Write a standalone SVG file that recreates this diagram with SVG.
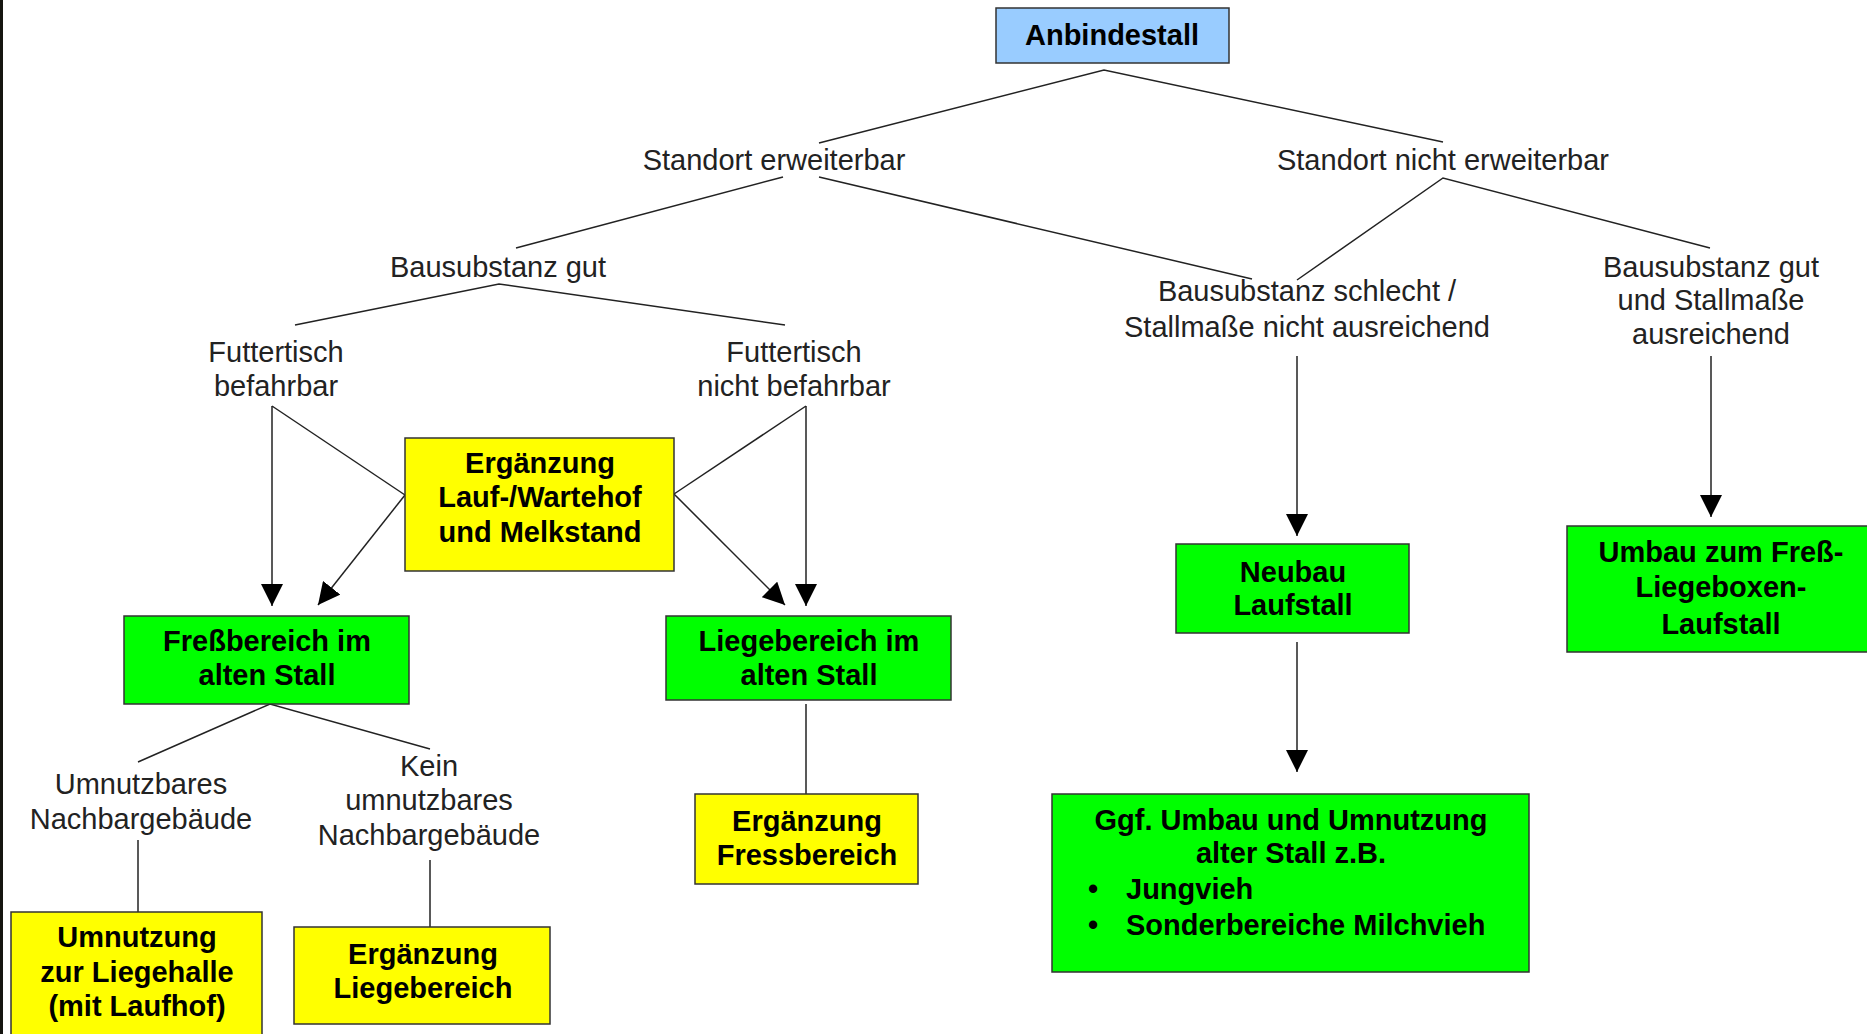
<svg xmlns="http://www.w3.org/2000/svg" width="1867" height="1034" viewBox="0 0 1867 1034">
<defs>
<style>
.lbl{font-family:"Liberation Sans",Arial,sans-serif;font-size:29px;fill:#222;text-anchor:middle}
.bt{font-family:"Liberation Sans",Arial,sans-serif;font-size:29px;font-weight:bold;fill:#000;text-anchor:middle}
.btl{font-family:"Liberation Sans",Arial,sans-serif;font-size:29px;font-weight:bold;fill:#000}
.box{stroke:#333;stroke-width:1.5}
.y{fill:#FFFF00}
.g{fill:#00FF00}
.b{fill:#99CCFF}
.c{fill:none;stroke:#222;stroke-width:1.5}
</style>
<marker id="ah" markerUnits="userSpaceOnUse" markerWidth="22" markerHeight="22" refX="20" refY="10" orient="auto" viewBox="0 0 20 20">
<path d="M0,0 L20,10 L0,20 z" fill="#000"/>
</marker>
</defs>
<rect x="0" y="0" width="1867" height="1034" fill="#fff"/>
<rect x="0" y="0" width="3" height="1034" fill="#151510"/>

<g id="connectors">
<polyline class="c" points="819,143 1104,70 1443,142"/>
<line class="c" x1="783" y1="177" x2="516" y2="248"/>
<line class="c" x1="819" y1="177" x2="1252" y2="279"/>
<polyline class="c" points="1297,280 1443,178 1710,248"/>
<polyline class="c" points="295,325 499,284 785,325"/>
<line class="c" x1="272" y1="406" x2="272" y2="606" marker-end="url(#ah)"/>
<line class="c" x1="272" y1="406" x2="405" y2="495"/>
<line class="c" x1="405" y1="495" x2="318" y2="605" marker-end="url(#ah)"/>
<line class="c" x1="806" y1="406" x2="806" y2="606" marker-end="url(#ah)"/>
<line class="c" x1="806" y1="406" x2="674" y2="494"/>
<line class="c" x1="674" y1="494" x2="785" y2="605" marker-end="url(#ah)"/>
<polyline class="c" points="138,762 270,704 430,749"/>
<line class="c" x1="138" y1="840" x2="138" y2="912"/>
<line class="c" x1="430" y1="860" x2="430" y2="927"/>
<line class="c" x1="806" y1="704" x2="806" y2="794"/>
<line class="c" x1="1297" y1="356" x2="1297" y2="536" marker-end="url(#ah)"/>
<line class="c" x1="1297" y1="642" x2="1297" y2="772" marker-end="url(#ah)"/>
<line class="c" x1="1711" y1="356" x2="1711" y2="517" marker-end="url(#ah)"/>
</g>

<g id="anbindestall">
<rect class="box b" x="996" y="8" width="233" height="55"/>
<text class="bt" x="1112" y="45">Anbindestall</text>
</g>
<g id="standort-erweiterbar">
<text class="lbl" x="774" y="170">Standort erweiterbar</text>
</g>
<g id="standort-nicht-erweiterbar">
<text class="lbl" x="1443" y="170">Standort nicht erweiterbar</text>
</g>
<g id="bausubstanz-gut">
<text class="lbl" x="498" y="277">Bausubstanz gut</text>
</g>
<g id="bausubstanz-schlecht">
<text class="lbl" x="1307" y="301">Bausubstanz schlecht /</text>
<text class="lbl" x="1307" y="337">Stallmaße nicht ausreichend</text>
</g>
<g id="bausubstanz-gut-stallmasse">
<text class="lbl" x="1711" y="277">Bausubstanz gut</text>
<text class="lbl" x="1711" y="310">und Stallmaße</text>
<text class="lbl" x="1711" y="344">ausreichend</text>
</g>
<g id="futtertisch-befahrbar">
<text class="lbl" x="276" y="362">Futtertisch</text>
<text class="lbl" x="276" y="396">befahrbar</text>
</g>
<g id="futtertisch-nicht-befahrbar">
<text class="lbl" x="794" y="362">Futtertisch</text>
<text class="lbl" x="794" y="396">nicht befahrbar</text>
</g>
<g id="ergaenzung-laufhof">
<rect class="box y" x="405" y="438" width="269" height="133"/>
<text class="bt" x="540" y="473">Ergänzung</text>
<text class="bt" x="540" y="507">Lauf-/Wartehof</text>
<text class="bt" x="540" y="542">und Melkstand</text>
</g>
<g id="fressbereich">
<rect class="box g" x="124" y="616" width="285" height="88"/>
<text class="bt" x="267" y="651">Freßbereich im</text>
<text class="bt" x="267" y="685">alten Stall</text>
</g>
<g id="liegebereich">
<rect class="box g" x="666" y="616" width="285" height="84"/>
<text class="bt" x="809" y="651">Liegebereich im</text>
<text class="bt" x="809" y="685">alten Stall</text>
</g>
<g id="umnutzbares">
<text class="lbl" x="141" y="794">Umnutzbares</text>
<text class="lbl" x="141" y="829">Nachbargebäude</text>
</g>
<g id="kein-umnutzbares">
<text class="lbl" x="429" y="776">Kein</text>
<text class="lbl" x="429" y="810">umnutzbares</text>
<text class="lbl" x="429" y="845">Nachbargebäude</text>
</g>
<g id="umnutzung-liegehalle">
<rect class="box y" x="11" y="912" width="251" height="135"/>
<text class="bt" x="137" y="947">Umnutzung</text>
<text class="bt" x="137" y="982">zur Liegehalle</text>
<text class="bt" x="137" y="1016">(mit Laufhof)</text>
</g>
<g id="ergaenzung-liegebereich">
<rect class="box y" x="294" y="927" width="256" height="97"/>
<text class="bt" x="423" y="964">Ergänzung</text>
<text class="bt" x="423" y="998">Liegebereich</text>
</g>
<g id="ergaenzung-fressbereich">
<rect class="box y" x="695" y="794" width="223" height="90"/>
<text class="bt" x="807" y="831">Ergänzung</text>
<text class="bt" x="807" y="865">Fressbereich</text>
</g>
<g id="neubau-laufstall">
<rect class="box g" x="1176" y="544" width="233" height="89"/>
<text class="bt" x="1293" y="582">Neubau</text>
<text class="bt" x="1293" y="615">Laufstall</text>
</g>
<g id="umbau-umnutzung">
<rect class="box g" x="1052" y="794" width="477" height="178"/>
<text class="bt" x="1291" y="830">Ggf. Umbau und Umnutzung</text>
<text class="bt" x="1291" y="863">alter Stall z.B.</text>
<text class="btl" x="1088" y="899">•</text>
<text class="btl" x="1126" y="899">Jungvieh</text>
<text class="btl" x="1088" y="935">•</text>
<text class="btl" x="1126" y="935">Sonderbereiche Milchvieh</text>
</g>
<g id="umbau-liegeboxen">
<rect class="box g" x="1567" y="526" width="310" height="126"/>
<text class="bt" x="1721" y="562">Umbau zum Freß-</text>
<text class="bt" x="1721" y="597">Liegeboxen-</text>
<text class="bt" x="1721" y="634">Laufstall</text>
</g>
</svg>
